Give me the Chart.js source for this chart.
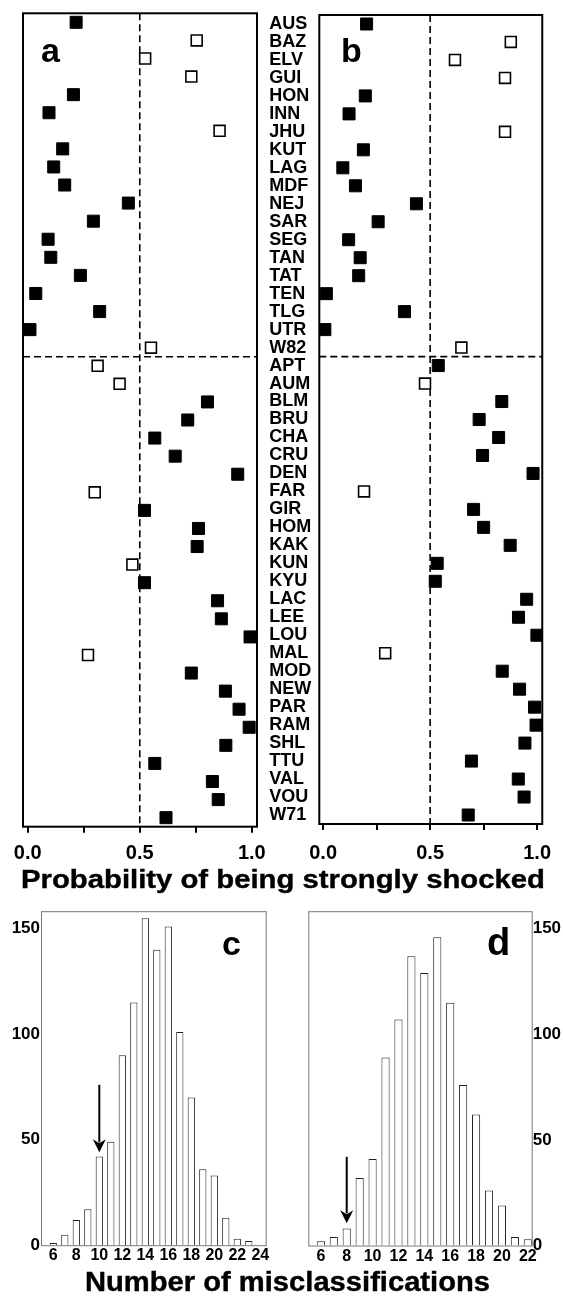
<!DOCTYPE html>
<html><head><meta charset="utf-8">
<script src="https://cdn.jsdelivr.net/npm/chart.js@4.4.1/dist/chart.umd.min.js"></script>
<style>
html,body{margin:0;padding:0;background:#fff;}
body{width:563px;height:1303px;position:relative;overflow:hidden;font-family:'Liberation Sans',Arial,sans-serif;}
canvas{position:absolute;}
.ttl{position:absolute;font-weight:bold;white-space:nowrap;color:#000;transform-origin:0 0;line-height:1;-webkit-text-stroke:0.4px #000;}
</style></head><body>
<canvas id="ca" width="280" height="870" style="left:0;top:0"></canvas>
<canvas id="cb" width="301" height="870" style="left:262px;top:0"></canvas>
<canvas id="cc" width="280" height="380" style="left:0;top:900px"></canvas>
<canvas id="cd" width="283" height="380" style="left:280px;top:900px"></canvas>
<div id="t1" class="ttl" style="left:21px;top:866px;font-size:26px">Probability of being strongly shocked</div>
<div id="t2" class="ttl" style="left:85px;top:1268.8px;font-size:27px">Number of misclassifications</div>
<script>
// ---------- data ----------
const sites = ['AUS','BAZ','ELV','GUI','HON','INN','JHU','KUT','LAG','MDF','NEJ','SAR','SEG','TAN','TAT','TEN','TLG','UTR','W82',
  'APT','AUM','BLM','BRU','CHA','CRU','DEN','FAR','GIR','HOM','KAK','KUN','KYU','LAC','LEE','LOU','MAL','MOD','NEW','PAR','RAM','SHL','TTU','VAL','VOU','W71'];
const nWeak = 19; // first 19 sites: weakly shocked group
const probA = [0.216,0.754,0.524,0.730,0.204,0.095,0.856,0.156,0.116,0.165,0.449,0.293,0.091,0.103,0.235,0.036,0.321,0.010,0.550,
  0.312,0.410,0.802,0.714,0.567,0.658,0.937,0.299,0.521,0.762,0.756,0.467,0.521,0.847,0.864,0.992,0.269,0.730,0.882,0.943,0.988,0.884,0.567,0.824,0.850,0.617];
const probB = [0.203,0.877,0.616,0.850,0.197,0.121,0.850,0.188,0.092,0.151,0.436,0.257,0.119,0.173,0.166,0.015,0.380,0.008,0.646,
  0.538,0.476,0.835,0.729,0.820,0.745,0.981,0.191,0.703,0.750,0.874,0.533,0.524,0.951,0.913,0.999,0.290,0.837,0.918,0.988,0.995,0.943,0.693,0.912,0.939,0.678];
const threshold = 0.5;
const probTicks = [0, 0.25, 0.5, 0.75, 1];
const probTickLabels = ['0.0', '', '0.5', '', '1.0'];

const misclassC = [6,7,8,9,10,11,12,13,14,15,16,17,18,19,20,21,22,23,24];
const countsC   = [1,5,12,17,42,49,90,115,155,140,151,101,70,36,33,13,3,2,0];
const xTicksC   = [6,8,10,12,14,16,18,20,22,24];
const observedC = 10;
const arrowC    = [76, 44];

const misclassD = [6,7,8,9,10,11,12,13,14,15,16,17,18,19,20,21,22];
const countsD   = [2,4,8,32,41,89,107,137,129,146,115,76,62,26,19,4,3];
const xTicksD   = [6,8,10,12,14,16,18,20,22];
const observedD = 8;
const arrowD    = [42, 10.5];

const yTicksHist = [0, 50, 100, 150];

// ---------- setup ----------
const FONT = "'Liberation Sans', Arial, sans-serif";
Chart.defaults.font.family = FONT;
Chart.defaults.color = '#000';

function isMis(p, i) { return i < nWeak ? p > threshold : p < threshold; }
function pts(probs, mis) {
  return probs.map((p, i) => ({x: p, y: i, m: isMis(p, i)})).filter(d => d.m === mis);
}

const panelPlugin = {
  id: 'panel',
  beforeDatasetsDraw(chart, args, o) {
    const {ctx, chartArea: a, scales} = chart;
    ctx.save();
    ctx.strokeStyle = '#000';
    ctx.lineWidth = 1.6;
    ctx.setLineDash([7, 4]);
    const xv = scales.x.getPixelForValue(threshold);
    ctx.beginPath(); ctx.moveTo(xv, a.top); ctx.lineTo(xv, a.bottom); ctx.stroke();
    const yh = scales.y.getPixelForValue(nWeak - 0.5);
    ctx.beginPath(); ctx.moveTo(a.left, yh); ctx.lineTo(a.right, yh); ctx.stroke();
    ctx.setLineDash([]);
    ctx.lineWidth = 2;
    ctx.strokeRect(a.left, a.top, a.right - a.left, a.bottom - a.top);
    ctx.restore();
  },
  afterDraw(chart, args, o) {
    const c = chart.ctx;
    c.save();
    c.font = 'bold ' + o.size + 'px ' + FONT;
    c.fillStyle = '#000';
    c.textBaseline = 'alphabetic';
    c.fillText(o.text, o.x, o.y);
    c.restore();
  }
};

const histPlugin = {
  id: 'hist',
  beforeDatasetsDraw(chart) {
    const {ctx, chartArea: a} = chart;
    ctx.save();
    ctx.strokeStyle = '#777';
    ctx.lineWidth = 1;
    ctx.strokeRect(a.left + 0.5, a.top + 0.5, a.right - a.left, a.bottom - a.top);
    ctx.restore();
  },
  afterDraw(chart, args, o) {
    const {ctx, scales} = chart;
    ctx.save();
    ctx.font = 'bold ' + o.size + 'px ' + FONT;
    ctx.fillStyle = '#000';
    ctx.fillText(o.text, o.tx, o.ty);
    const X = scales.x.getPixelForValue(o.ax);
    const y1 = scales.y.getPixelForValue(o.from);
    const y2 = scales.y.getPixelForValue(o.to);
    ctx.strokeStyle = '#000';
    ctx.lineWidth = 2;
    ctx.beginPath(); ctx.moveTo(X, y1); ctx.lineTo(X, y2 - 10); ctx.stroke();
    ctx.beginPath(); ctx.moveTo(X - 6.5, y2 - 13); ctx.lineTo(X, y2 - 9); ctx.lineTo(X + 6.5, y2 - 13); ctx.lineTo(X, y2); ctx.closePath(); ctx.fill();
    ctx.restore();
  }
};

function panelChart(id, probs, cfg) {
  return new Chart(document.getElementById(id), {
    type: 'scatter',
    data: {datasets: [
      {data: pts(probs, false), pointStyle: 'rect', pointRadius: 8.5, backgroundColor: '#000', borderColor: '#000', borderWidth: 1},
      {data: pts(probs, true), pointStyle: 'rect', pointRadius: 7.7, backgroundColor: '#fff', borderColor: '#000', borderWidth: 1.6}
    ]},
    options: {
      responsive: false, animation: false, events: [],
      layout: {padding: cfg.pad},
      plugins: {legend: {display: false}, tooltip: {enabled: false}, panel: cfg.letter},
      scales: {
        x: {type: 'linear', min: cfg.xmin, max: cfg.xmax,
          afterBuildTicks: s => { s.ticks = probTicks.map(v => ({value: v})); },
          ticks: {callback: (v, i) => probTickLabels[i], font: {size: 20, weight: 'bold'}, padding: cfg.tpad, maxRotation: 0, autoSkip: false, color: '#000'},
          grid: {drawOnChartArea: false, drawTicks: true, tickLength: 6, color: '#000', lineWidth: 2},
          border: {display: false},
          afterFit: s => { s.height = cfg.xh; }},
        y: cfg.y
      }
    },
    plugins: [panelPlugin]
  });
}

panelChart('ca', probA, {
  pad: {left: 23, right: 23, top: 13.3, bottom: 0}, xmin: -0.021, xmax: 1.023, tpad: 9, xh: 43.3,
  letter: {text: 'a', x: 41, y: 62, size: 34},
  y: {type: 'linear', min: -0.5, max: 44.5, reverse: true, display: false}
});

panelChart('cb', probB, {
  pad: {left: 7.3, right: 12, top: 15, bottom: 0}, xmin: -0.018, xmax: 1.024, tpad: 11.7, xh: 46,
  letter: {text: 'b', x: 79, y: 62, size: 34},
  y: {type: 'linear', min: -0.5, max: 44.5, reverse: true, position: 'left',
    afterBuildTicks: s => { s.ticks = sites.map((_, i) => ({value: i})); },
    ticks: {callback: v => sites[v], font: {size: 18, weight: 'bold'}, crossAlign: 'far', padding: 0, autoSkip: false, color: '#000'},
    grid: {display: false, drawTicks: false}, border: {display: false},
    afterFit: s => { s.width = 50; }}
});

function histChart(id, xs, ys, xTicks, cfg) {
  return new Chart(document.getElementById(id), {
    type: 'bar',
    data: {datasets: [{data: xs.map((m, i) => ({x: m, y: ys[i]})), backgroundColor: '#fff', borderColor: '#222', borderWidth: 1, barPercentage: 0.63, categoryPercentage: 1}]},
    options: {
      responsive: false, animation: false, events: [],
      layout: {padding: cfg.pad},
      plugins: {legend: {display: false}, tooltip: {enabled: false}, hist: cfg.deco},
      scales: {
        x: {type: 'linear', min: cfg.xmin, max: cfg.xmax, offset: false,
          grid: {display: false, drawTicks: false, offset: false}, border: {display: false},
          afterBuildTicks: s => { s.ticks = xTicks.map(v => ({value: v})); },
          ticks: {font: {size: 16, weight: 'bold'}, padding: 1, maxRotation: 0, autoSkip: false, color: '#000'},
          afterFit: s => { s.height = cfg.xh; }},
        y: {type: 'linear', min: 0, max: 158.3, position: cfg.ypos,
          grid: {display: false, drawTicks: false}, border: {display: false},
          afterBuildTicks: s => { s.ticks = yTicksHist.map(v => ({value: v})); },
          ticks: {font: {size: 17, weight: 'bold'}, padding: cfg.ypad, color: '#000'},
          afterFit: s => { s.width = cfg.yw; }}
      }
    },
    plugins: [histPlugin]
  });
}

histChart('cc', misclassC, countsC, xTicksC, {
  pad: {left: 0, right: 14.3, top: 10.7, bottom: 0}, xmin: 4.93, xmax: 24.47, xh: 34.8, ypos: 'left', yw: 41, ypad: 1,
  deco: {text: 'c', tx: 222, ty: 55, size: 34, ax: observedC, from: arrowC[0], to: arrowC[1]}
});
histChart('cd', misclassD, countsD, xTicksD, {
  pad: {left: 28.3, right: 0, top: 10.7, bottom: 0}, xmin: 5.03, xmax: 22.3, xh: 34.5, ypos: 'right', yw: 31.3, ypad: 1,
  deco: {text: 'd', tx: 207, ty: 55, size: 38, ax: observedD, from: arrowD[0], to: arrowD[1]}
});

// stretch the wide figure titles
function fitWidth(id, w) {
  const el = document.getElementById(id);
  el.style.transform = 'scaleX(' + (w / el.getBoundingClientRect().width) + ')';
}
fitWidth('t1', 524);
fitWidth('t2', 405);
</script>
</body></html>
